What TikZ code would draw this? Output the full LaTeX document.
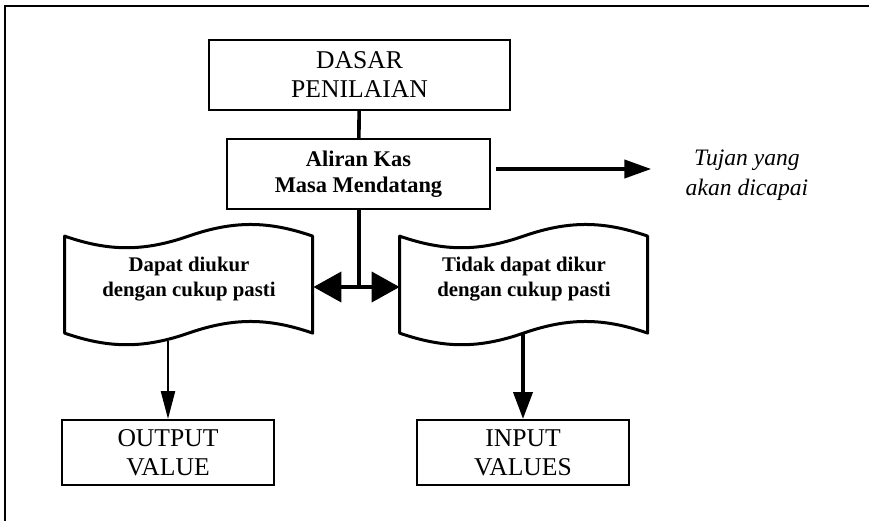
\documentclass[tikz,border=0pt]{standalone}
\usepackage{fontspec}
\setmainfont{Liberation Serif}
\usepackage{tikz}
\usetikzlibrary{arrows.meta,calc}

\newcommand{\flagoutline}[1]{%
\begin{scope}[shift={(#1.north west)},yshift=-3pt]
\draw [line width=1.5pt,line join=round] (0,0) .. controls (44.6,15.5) and (79.4,15.5) .. (124,0)
  .. controls (168.6,-15.5) and (203.4,-15.5) .. (248,0) -- (248,97)
  .. controls (203.4,81.5) and (168.6,81.5) .. (124,97)
  .. controls (79.4,112.5) and (44.6,112.5) .. (0,97) -- cycle;
\end{scope}}

\begin{document}
\begin{tikzpicture}[x=0.5pt,y=-0.5pt]
\tikzstyle{every node}+=[inner sep=0pt]
\tikzstyle{box}=[draw,line width=1pt,align=center,font=\fontsize{12.8}{14.5}\selectfont]
\tikzstyle{flowbox}=[draw,line width=1.1pt,align=center,font=\fontsize{11.2}{13}\selectfont\bfseries]
\tikzstyle{flag}=[minimum width=124pt,minimum height=48.5pt,align=center,font=\fontsize{10.4}{12.5}\selectfont\bfseries]
\tikzstyle{thickline}=[line width=2pt]
\useasboundingbox (0,0) rectangle (869,521);
\draw [line width=0.8pt] (869,6) -- (5,6) -- (5,521);
\node [box,minimum width=150.5pt,minimum height=35pt] (dasar) at (359.5,75) {DASAR\\PENILAIAN};
\node [flowbox,minimum width=131.5pt,minimum height=35pt] (aliran) at (358.5,174) {Aliran Kas\\Masa Mendatang};
\node [align=center,font=\itshape\fontsize{11.8}{15}\selectfont] (tujuan) at (747,175) {Tujan yang\\akan dicapai};
\node [flag] (ukur) at (189,279) {Dapat diukur\\dengan cukup pasti};
\node [flag] (takukur) at (524,279) {Tidak dapat dikur\\dengan cukup pasti};
\flagoutline{ukur}
\flagoutline{takukur}
\node [box,minimum width=106pt,minimum height=32.5pt] (output) at (168,452.5) {OUTPUT\\VALUE};
\node [box,minimum width=106pt,minimum height=32.5pt] (input) at (523,452.5) {INPUT\\VALUES};
\draw [line width=1.8pt] (dasar) -- (aliran);
\draw [thickline,-{Triangle[length=13.5pt,width=9pt]}] ([shift={(5,-5)}]aliran.east) -- ([shift={(-34,-5)}]aliran.east -| tujuan.west);
\draw [thickline] (aliran.south) -- ($(aliran.south |- ukur.east)+(0,8)$);
\draw [thickline,{Triangle[length=14pt,width=15pt]}-{Triangle[length=14pt,width=15pt]}] ([shift={(0,8)}]ukur.east) -- ([shift={(0,8)}]takukur.west);
\draw [line width=1.2pt,-{Triangle[length=14pt,width=7pt]}] ($(output.north |- ukur.south)+(0,13)$) -- (output.north);
\draw [thickline,-{Triangle[length=13.5pt,width=9.5pt]}] ($(input.north |- takukur.south)+(0,5)$) -- (input.north);
\end{tikzpicture}
\end{document}
